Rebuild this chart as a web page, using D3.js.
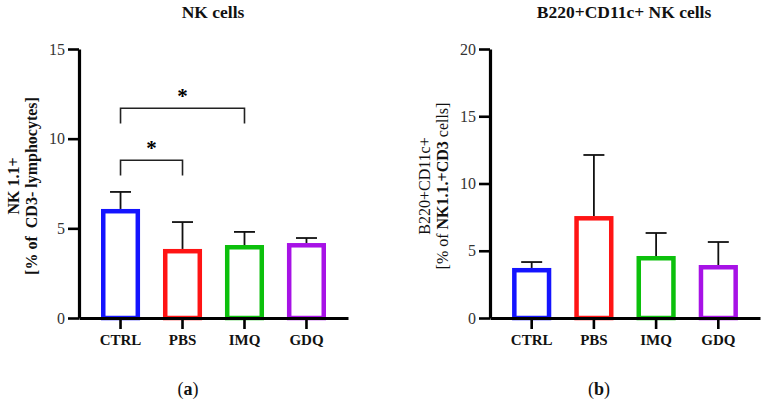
<!DOCTYPE html>
<html>
<head>
<meta charset="UTF-8">
<script src="https://cdn.jsdelivr.net/npm/d3@7"></script>
<style>
    body { margin: 0; background: #fff; }
    text { font-family: "Liberation Serif", "Times New Roman", serif; }
</style>
</head>
<body>
<div id="ChartContainer"></div>
<script>
    const groups = ["CTRL", "PBS", "IMQ", "GDQ"]
    const barColors = ["#1414ff", "#ff1414", "#0cc00c", "#a712e6"]

    // panel (a) NK cells, mean and upper SD
    const nkMean = [6.08, 3.85, 4.07, 4.18]
    const nkErr = [0.95, 1.5, 0.73, 0.28]
    const nkTicks = [0, 5, 10, 15]
    const nkSig = [
        { from: "CTRL", to: "PBS", top: 8.8, leg: 7.95, label: "*" },
        { from: "CTRL", to: "IMQ", top: 11.7, leg: 10.85, label: "*" }
    ]

    // panel (b) B220+CD11c+ NK cells
    const bMean = [3.72, 7.58, 4.61, 3.94]
    const bErr = [0.44, 4.54, 1.71, 1.71]
    const bTicks = [0, 5, 10, 15, 20]

    const width = 767
    const height = 404

    const svg = d3.select("#ChartContainer")
        .append("svg")
        .attr("width", width)
        .attr("height", height)

    const drawPanel = (opt) => {
        const g = svg.append("g")

        const x = d3.scaleBand()
            .domain(groups)
            .range([opt.left, opt.right])
            .paddingInner(0.37)
            .paddingOuter(0.355)

        const y = d3.scaleLinear()
            .domain([0, d3.max(opt.ticks)])
            .range([318, 49])

        const sw = 4.5
        const rows = groups.map((grp, i) => ({ grp: grp, mean: opt.mean[i], err: opt.err[i], color: barColors[i] }))

        // error bars (upper only), drawn under the bar outline
        rows.forEach(d => {
            const cx = x(d.grp) + x.bandwidth() / 2
            g.append("line")
                .attr("x1", cx).attr("x2", cx)
                .attr("y1", y(d.mean)).attr("y2", y(d.mean + d.err))
                .attr("stroke", "#111").attr("stroke-width", 1.8)
            g.append("line")
                .attr("x1", cx - 10.5).attr("x2", cx + 10.5)
                .attr("y1", y(d.mean + d.err)).attr("y2", y(d.mean + d.err))
                .attr("stroke", "#111").attr("stroke-width", 1.8)
        })

        g.selectAll("rect.bar")
            .data(rows)
            .enter()
            .append("rect")
            .attr("class", "bar")
            .attr("x", d => x(d.grp) + sw / 2)
            .attr("width", x.bandwidth() - sw)
            .attr("y", d => y(d.mean) + sw / 2)
            .attr("height", d => y(0) - y(d.mean) - sw / 2)
            .attr("fill", "white")
            .attr("stroke", d => d.color)
            .attr("stroke-width", sw)

        // axes
        const yAxis = g.append("g")
            .attr("transform", `translate(${opt.left},0)`)
            .call(d3.axisLeft(y).tickValues(opt.ticks).tickSize(11).tickSizeOuter(0).tickPadding(3))
        yAxis.select(".domain").attr("stroke-width", 3.2)
        yAxis.selectAll(".tick line").attr("stroke-width", 2.6)
        yAxis.selectAll(".tick text")
            .attr("font-family", "Liberation Serif, serif")
            .attr("font-size", 16)
            .attr("fill", "#333")

        const xAxis = g.append("g")
            .attr("transform", `translate(0,${y(0)})`)
            .call(d3.axisBottom(x).tickSize(11).tickSizeOuter(0).tickPadding(5))
        xAxis.select(".domain").attr("stroke-width", 3.2)
        xAxis.selectAll(".tick line").attr("stroke-width", 2.6)
        xAxis.selectAll(".tick text")
            .attr("font-family", "Liberation Serif, serif")
            .attr("font-size", 15)
            .attr("font-weight", "bold")
            .attr("fill", "#111")

        // significance brackets
        opt.sig.forEach(s => {
            const x1 = x(s.from) + x.bandwidth() / 2
            const x2 = x(s.to) + x.bandwidth() / 2
            g.append("path")
                .attr("d", `M${x1},${y(s.leg)}V${y(s.top)}H${x2}V${y(s.leg)}`)
                .attr("fill", "none")
                .attr("stroke", "#222")
                .attr("stroke-width", 1.6)
            g.append("text")
                .attr("x", (x1 + x2) / 2)
                .attr("y", y(s.top) - 5)
                .attr("text-anchor", "middle")
                .attr("font-size", 21)
                .attr("font-weight", "bold")
                .text(s.label)
        })

        // title
        g.append("text")
            .attr("x", opt.titleX)
            .attr("y", 18)
            .attr("text-anchor", "middle")
            .attr("font-size", 17.5)
            .attr("font-weight", "bold")
            .attr("fill", "#111")
            .text(opt.title)

        // y label, two lines
        opt.yLabel.forEach((line, i) => {
            const t = g.append("text")
                .attr("transform", `translate(${opt.yLabelX[i]},186) rotate(-90)`)
                .attr("text-anchor", "middle")
                .attr("font-size", 16)
                .attr("fill", "#111")
                .style("white-space", "pre")
            line.forEach(part => {
                t.append("tspan")
                    .attr("font-weight", part.bold ? "bold" : "normal")
                    .text(part.text)
            })
        })

        // panel letter
        g.append("text")
            .attr("x", opt.letterX)
            .attr("y", 395)
            .attr("text-anchor", "middle")
            .attr("font-size", 18)
            .attr("fill", "#111")
            .html(`(<tspan font-weight="bold">${opt.letter}</tspan>)`)
    }

    drawPanel({
        left: 79, right: 348,
        mean: nkMean, err: nkErr, ticks: nkTicks, sig: nkSig,
        title: "NK cells", titleX: 213,
        yLabel: [
            [{ text: "NK 1.1+", bold: true }],
            [{ text: "[% of  CD3- lymphocytes]", bold: true }]
        ],
        yLabelX: [19, 37],
        letter: "a", letterX: 188
    })

    drawPanel({
        left: 490, right: 760,
        mean: bMean, err: bErr, ticks: bTicks, sig: [],
        title: "B220+CD11c+ NK cells", titleX: 624,
        yLabel: [
            [{ text: "B220+CD11c+", bold: false }],
            [{ text: "[% of ", bold: false }, { text: "NK1.1.+CD3", bold: true }, { text: " cells]", bold: false }]
        ],
        yLabelX: [430, 448],
        letter: "b", letterX: 599
    })
</script>
</body>
</html>
